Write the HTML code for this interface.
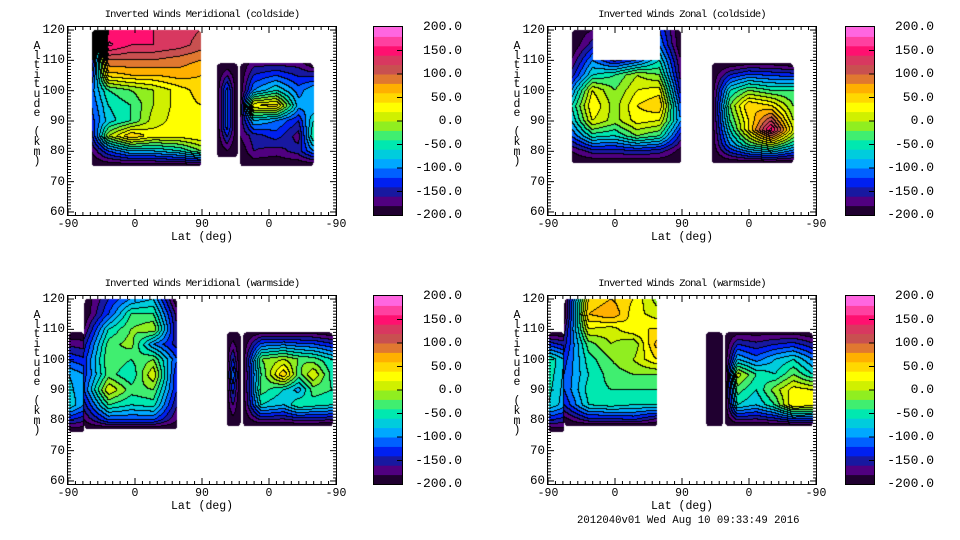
<!DOCTYPE html>
<html><head><meta charset="utf-8">
<style>
body{margin:0;background:#fff;width:960px;height:540px;overflow:hidden;position:relative;font-family:"Liberation Mono",monospace;font-size:12px;color:#000}
.t{position:absolute;white-space:nowrap;line-height:12px}
canvas{position:absolute}
</style></head><body>
<div id="root"></div>
<script>
const levels = [-200,-180,-160,-140,-120,-100,-80,-60,-40,-20,0,20,40,60,80,100,120,140,160,180,200];
const bandColors = ["#200030","#500080","#1818a0","#0020f0","#0060ff","#00a8ff","#00ccdd","#00e8b0","#40ee70","#90ee20","#d0f000","#ffff00","#ffd800","#ffb000","#e07830","#c85050","#d83860","#ff1070","#ff40a0","#ff66e0"];
const cbarLabels = ["200.0","150.0","100.0","50.0","0.0","-50.0","-100.0","-150.0","-200.0"];
const yTicks = [60,70,80,90,100,110,120];
const xTickLabels = ["-90","0","90","0","-90"];

const p1RegionA = {u:[32,55,85,115,150,179],a:[120,115,110,105,100,95,90,85,80,75],v:[
[-200,140,150,140,130,120],[-190,165,140,140,130,110],[-170,100,100,100,90,80],[-140,50,60,60,70,60],[-110,-40,-20,0,30,50],
[-120,-60,-40,0,30,40],[-130,-70,-40,10,30,40],[-150,0,60,30,30,40],[-180,-120,-80,-80,-60,-20],[-200,-200,-200,-200,-200,-200]]};
const p1RegionB = {u:[200,214,228],a:[109,100,88,78],v:[[-200,-200,-200],[-200,-110,-200],[-200,-110,-200],[-200,-200,-200]]};
const p1RegionC = {u:[231,250,280,310,330],a:[109,100,95,90,85,80,75],v:[
[-200,-170,-170,-170,-200],[-200,-100,-60,-110,-80],[-200,40,50,-90,-100],[-180,-80,-100,-140,-60],[-180,-150,-130,-170,-40],[-200,-160,-170,-150,-100],[-200,-200,-200,-200,-200]]};

const p2RegionA = {u:[32,60,90,120,150,179],a:[120,115,110,105,100,95,90,85,80,76],v:[
[-200,-180,-999,-999,-120,-200],[-200,-150,-999,-999,-100,-200],[-180,-100,-150,-120,-60,-180],[-150,-60,-40,0,-20,-170],[-100,20,-20,20,30,-150],
[-60,40,-10,40,60,-120],[-80,20,-10,30,20,-100],[-120,-50,-60,-20,-40,-150],[-180,-150,-150,-140,-150,-190],[-200,-200,-200,-200,-200,-200]]};
const p2RegionC = {u:[220,245,270,300,330],a:[109,100,95,90,87,82,76],v:[
[-200,-200,-190,-190,-200],[-200,-60,-20,-40,-40],[-200,-20,60,40,-20],[-200,-40,40,120,0],[-200,-60,40,170,20],[-200,-100,-40,0,-60],[-200,-200,-200,-200,-200]]};

const p3RegionL = {u:[1,22],a:[109,95,85,76],v:[[-200,-200],[-80,-100],[-60,-100],[-200,-200]]};
const p3RegionA = {u:[22,55,85,115,147],a:[120,115,110,105,100,95,90,85,80,77],v:[
[-200,-140,-100,-80,-200],[-200,-120,-40,-40,-170],[-180,-60,-20,0,-160],[-150,-30,-10,-100,-150],[-130,-20,-40,-20,-120],
[-130,-30,-60,20,-140],[-120,20,-30,-20,-140],[-150,-40,-60,-50,-160],[-180,-120,-120,-120,-180],[-200,-200,-200,-200,-200]]};
const p3RegionB = {u:[213,222,232],a:[109,95,78],v:[[-200,-200,-200],[-200,-100,-200],[-200,-200,-200]]};
const p3RegionC = {u:[235,260,290,310,330,356],a:[109,100,95,90,85,78],v:[
[-200,-190,-190,-190,-190,-200],[-200,-20,0,-20,-30,-60],[-200,-40,60,-30,20,-50],[-200,-30,-60,-90,-30,-40],[-200,-60,-80,-40,-50,-60],[-200,-200,-200,-200,-200,-200]]};

const p4RegionL = {u:[1,22],a:[109,100,85,76],v:[[-200,-200],[-40,-80],[-60,-90],[-200,-200]]};
const p4RegionA = {u:[22,55,85,115,147],a:[120,115,110,105,100,95,90,85,80,78],v:[
[-200,40,60,40,-10],[-200,60,80,30,10],[-170,20,10,40,40],[-150,-30,0,-20,70],[-130,-50,-20,0,40],
[-120,-60,-30,-20,-20],[-120,-50,-40,-40,-40],[-140,-60,-50,-60,-60],[-190,-150,-150,-140,-170],[-200,-200,-200,-200,-200]]};
const p4RegionB = {u:[212,222,235],a:[109,95,78],v:[[-200,-200,-200],[-200,-200,-200],[-200,-200,-200]]};
const p4RegionC = {u:[238,255,280,305,330,356],a:[109,100,95,90,85,78],v:[
[-200,-190,-190,-190,-190,-200],[-200,-80,-110,-80,-60,-100],[-200,10,-40,-60,-20,-60],[-200,-30,-60,-10,30,20],[-200,-60,-80,-40,40,30],[-200,-200,-200,-200,-200,-200]]};

const panels = [
 {name:"meridional-coldside",title:"Inverted Winds Meridional (coldside)",x:68,y:27,cx:374,regions:[p1RegionA,p1RegionB,p1RegionC]},
 {name:"zonal-coldside",title:"Inverted Winds Zonal (coldside)",x:548,y:27,cx:846,regions:[p2RegionA,p2RegionC]},
 {name:"meridional-warmside",title:"Inverted Winds Meridional (warmside)",x:68,y:296,cx:374,regions:[p3RegionL,p3RegionA,p3RegionB,p3RegionC]},
 {name:"zonal-warmside",title:"Inverted Winds Zonal (warmside)",x:548,y:296,cx:846,regions:[p4RegionL,p4RegionA,p4RegionB,p4RegionC]}
];
const W=268,H=188,A0=59,A1=121;
const uToX=u=>u*W/360, aToY=a=>(A1-a)*H/(A1-A0);
const xToU=x=>x*360/W, yToA=y=>A1-y*(A1-A0)/H;

function idx(arr,v,desc){for(let i=0;i<arr.length-1;i++){const a=arr[i],b=arr[i+1];if(desc?(v<=a&&v>=b):(v>=a&&v<=b))return i;}return -1;}
function sample(regions,u,a){
 for(const r of regions){
  if(u<r.u[0]||u>r.u[r.u.length-1]||a>r.a[0]||a<r.a[r.a.length-1])continue;
  const i=idx(r.u,u,false),j=idx(r.a,a,true);if(i<0||j<0)continue;
  const tx=(u-r.u[i])/(r.u[i+1]-r.u[i]),ty=(r.a[j]-a)/(r.a[j]-r.a[j+1]);
  const q=[r.v[j][i],r.v[j][i+1],r.v[j+1][i],r.v[j+1][i+1]];
  if(q.some(v=>v<-500))return null;
  const du=Math.min(u-r.u[0],r.u[r.u.length-1]-u)/4.5, da=Math.min(r.a[0]-a,a-r.a[r.a.length-1])/1.6;
  if(du<1&&da<1&&(1-du)*(1-du)+(1-da)*(1-da)>1)return null;
  return (q[0]*(1-tx)+q[1]*tx)*(1-ty)+(q[2]*(1-tx)+q[3]*tx)*ty;
 }
 return null;
}
function band(v){if(v===null)return -1;let b=Math.floor((v-levels[0])/20);return Math.max(0,Math.min(19,b));}
function hex(c){return [parseInt(c.slice(1,3),16),parseInt(c.slice(3,5),16),parseInt(c.slice(5,7),16)];}
const rgb=bandColors.map(hex);
const root=document.getElementById('root');
function txt(x,y,s,name,style){const d=document.createElement('div');d.className='t';d.style.left=x+'px';d.style.top=y+'px';if(style)d.style.cssText+=style;d.textContent=s;


root.appendChild(d);return d;}

panels.forEach(p=>{
 const cv=document.createElement('canvas');cv.width=W;cv.height=H;cv.style.left=p.x+'px';cv.style.top=p.y+'px';
 
 
 root.appendChild(cv);
 const ctx=cv.getContext('2d');const img=ctx.createImageData(W,H);
 const B=new Int8Array(W*H);
 for(let y=0;y<H;y++)for(let x=0;x<W;x++)B[y*W+x]=band(sample(p.regions,xToU(x+0.5),yToA(y+0.5)));
 for(let y=0;y<H;y++)for(let x=0;x<W;x++){
  const b=B[y*W+x],k=(y*W+x)*4;let c=[255,255,255];
  if(b>=0){c=rgb[b];const r=x<W-1?B[y*W+x+1]:b,d=y<H-1?B[(y+1)*W+x]:b;if((r!==b&&r>=0)||(d!==b&&d>=0))c=[0,0,0];}
  img.data[k]=c[0];img.data[k+1]=c[1];img.data[k+2]=c[2];img.data[k+3]=255;}
 ctx.putImageData(img,0,0);
 const sv=document.createElementNS('http://www.w3.org/2000/svg','svg');
 sv.setAttribute('width',W+2);sv.setAttribute('height',H+2);sv.style.cssText=`position:absolute;left:${p.x-1}px;top:${p.y-1}px`;
 
 
 let s=`<rect x="0.5" y="0.5" width="${W+1}" height="${H+1}" fill="none" stroke="#000"/>`;
 for(let a=60;a<=120;a++){const yy=aToY(a)+1,l=a%10===0?6:3;s+=`<line x1="1" x2="${1+l}" y1="${yy}" y2="${yy}" stroke="#000"/><line x1="${W+1-l}" x2="${W+1}" y1="${yy}" y2="${yy}" stroke="#000"/>`;}
 for(let u=0;u<=360;u+=10){const xx=uToX(u)+1,l=u%90===0?6:3;s+=`<line y1="${H+1}" y2="${H+1-l}" x1="${xx}" x2="${xx}" stroke="#000"/><line y1="1" y2="${1+l}" x1="${xx}" x2="${xx}" stroke="#000"/>`;}
 sv.innerHTML=s;root.appendChild(sv);
 txt(p.x+W/2-135,p.y-18,p.title,p.name+'-title','width:270px;text-align:center;font-size:10.5px;letter-spacing:-0.9px');
 yTicks.forEach(a=>txt(p.x-34,p.y+aToY(a)-6,String(a),'y-tick-label','width:31px;text-align:right;font-size:12.5px'));
 xTickLabels.forEach((l,i)=>txt(p.x+uToX(i*90)-20,p.y+H+4,l,'x-tick-label','width:40px;text-align:center;font-size:11.5px'));
 txt(p.x+W/2-40,p.y+H+17,'Lat (deg)','x-axis-title','width:80px;text-align:center;font-size:11.5px');
 const yt=txt(p.x-36,p.y+15,'','y-axis-title','width:10px;text-align:center;font-size:11.5px;line-height:9.6px;white-space:pre');
 yt.textContent='A\nl\nt\ni\nt\nu\nd\ne\n \n(\nk\nm\n)';
 const cb=document.createElementNS('http://www.w3.org/2000/svg','svg');
 cb.setAttribute('width',30);cb.setAttribute('height',H+2);cb.style.cssText=`position:absolute;left:${p.cx-1}px;top:${p.y-1}px`;
 
 
 let c='';const bh=H/20;
 bandColors.forEach((col,i)=>{c+=`<rect x="1" y="${1+H-(i+1)*bh}" width="28" height="${bh+0.5}" fill="${col}"/>`;});
 for(let i=1;i<8;i++){const yy=1+i*H/8;c+=`<line x1="${29-5}" x2="29" y1="${yy}" y2="${yy}" stroke="#000"/>`;}
 c+=`<rect x="0.5" y="0.5" width="29" height="${H+1}" fill="none" stroke="#000"/>`;
 cb.innerHTML=c;root.appendChild(cb);
 cbarLabels.forEach((l,i)=>txt(p.cx+30,p.y+i*H/8-6,l,'colorbar-label','width:58px;text-align:right;font-size:13px'));
});
txt(577,515,'2012040v01 Wed Aug 10 09:33:49 2016','timestamp-footer','font-size:10.6px');
</script>
</body></html>
